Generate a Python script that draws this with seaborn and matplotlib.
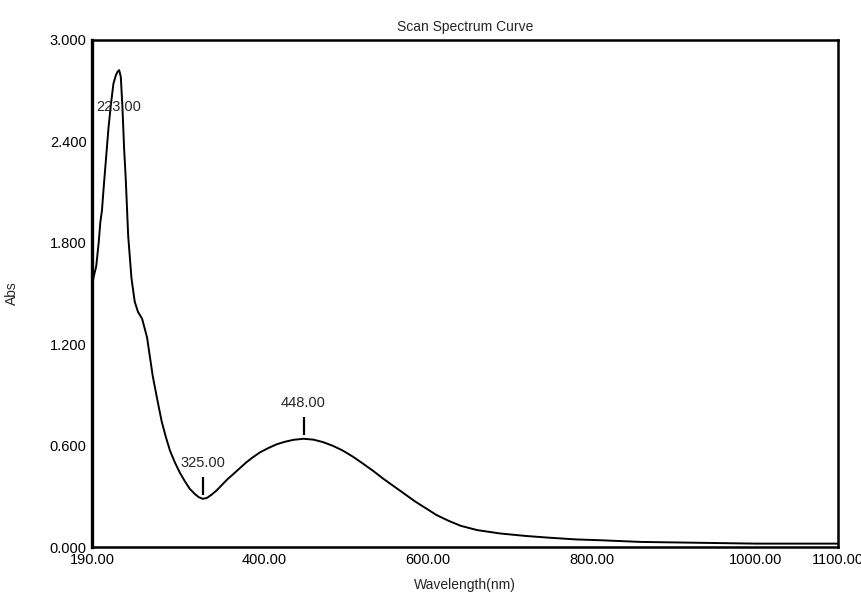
import numpy as np
import pandas as pd
import matplotlib
matplotlib.use('Agg')
import matplotlib.pyplot as plt
import seaborn as sns

# spectrum
wavelength = [190, 192, 195, 198, 200, 202, 204, 207, 210, 213, 216, 219, 221, 223,
              225, 227, 229, 231, 234, 238, 242, 246, 251, 257, 264, 270, 275, 280,
              285, 291, 297, 303, 309, 315, 320, 325, 330, 336, 342, 348, 355, 362,
              370, 378, 386, 395, 405, 415, 425, 436, 448, 460, 472, 484, 496, 508,
              520, 533, 545, 558, 571, 584, 597, 610, 625, 640, 660, 688, 720, 748,
              780, 810, 860, 931, 1000, 1050, 1100]
absorb = [1.55, 1.60, 1.66, 1.80, 1.92, 1.99, 2.12, 2.30, 2.48, 2.62, 2.74, 2.79, 2.81, 2.82,
          2.78, 2.60, 2.36, 2.18, 1.84, 1.59, 1.45, 1.39, 1.35, 1.24, 1.01, 0.86, 0.74, 0.65,
          0.57, 0.50, 0.44, 0.39, 0.345, 0.315, 0.295, 0.285, 0.29, 0.31, 0.335, 0.365, 0.40, 0.43,
          0.465, 0.50, 0.53, 0.56, 0.585, 0.607, 0.622, 0.634, 0.64, 0.635, 0.62, 0.598, 0.57, 0.535,
          0.495, 0.45, 0.405, 0.36, 0.315, 0.27, 0.23, 0.19, 0.155, 0.125, 0.10, 0.08, 0.065, 0.055,
          0.045, 0.04, 0.03, 0.025, 0.02, 0.02, 0.02]

peak_wl = [223, 325, 448]
peak_lbl = ['223.00', '325.00', '448.00']

xticks = [190, 400, 600, 800, 1000, 1100]
yticks = [0.0, 0.6, 1.2, 1.8, 2.4, 3.0]

df = pd.DataFrame({'wl': wavelength, 'abs': absorb})

sns.set_style('white')
plt.rcParams['font.family'] = ['Liberation Sans', 'DejaVu Sans']

fig = plt.figure(figsize=(8.61, 5.92), dpi=100)
ax = fig.add_axes([0.107, 0.076, 0.866, 0.857])
sns.lineplot(data=df, x='wl', y='abs', color='black', lw=1.4, ax=ax)

ax.set_xlim(190, 1100)
ax.set_ylim(0, 3.0)
ax.set_xticks(xticks)
ax.set_xticklabels(['%.2f' % t for t in xticks], fontsize=10.5)
ax.set_yticks(yticks)
ax.set_yticklabels(['%.3f' % t for t in yticks], fontsize=10.5)
ax.tick_params(axis='both', length=3, width=1, direction='out', pad=1, colors='black')
for s in ax.spines.values():
    s.set_color('black')
    s.set_linewidth(1.8)
ax.spines['left'].set_linewidth(2.4)

# peak / valley labels
pk_abs = np.interp(peak_wl, wavelength, absorb)
ax.text(peak_wl[0], pk_abs[0] - 0.22, peak_lbl[0], ha='center', va='center', fontsize=10.5)
for w, a, lab in zip(peak_wl[1:], pk_abs[1:], peak_lbl[1:]):
    ax.vlines(w, a + 0.02, a + 0.13, color='black', lw=1.6)
    ax.text(w, a + 0.21, lab, ha='center', va='center', fontsize=10.5)

ax.set_title('Scan Spectrum Curve', fontsize=10, pad=6)
ax.set_xlabel('Wavelength(nm)', fontsize=10, labelpad=8)
ax.set_ylabel('Abs', fontsize=10, labelpad=22)

plt.savefig('out.png', dpi=100)
